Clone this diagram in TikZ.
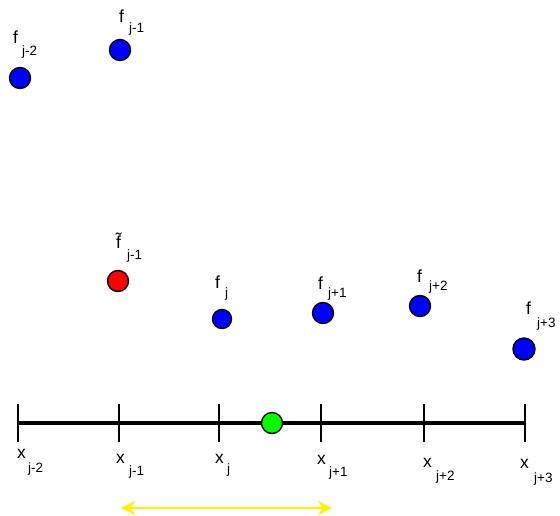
\documentclass[tikz,border=0pt]{standalone}
\usepackage{fontspec}
\setmainfont{Liberation Sans}
\usetikzlibrary{arrows.meta}
\begin{document}
\begin{tikzpicture}[x=1pt,y=-1pt,
  dot/.style={circle,draw=black,line width=1.4pt,inner sep=0pt,minimum size=21pt},
  mainlab/.style={anchor=base west,inner sep=0pt,font=\fontsize{17.5}{18}\selectfont},
  sublab/.style={anchor=base west,inner sep=0pt,font=\fontsize{13.5}{14}\selectfont},
  axisline/.style={line width=3.5pt},
  tickline/.style={line width=1.8pt},
  span/.style={draw=yellow,line width=2pt,{Stealth[length=14pt,width=14pt]}-{Stealth[length=14pt,width=14pt]}}]
\useasboundingbox (0,0) rectangle (560,516);
% points
\node[dot,fill=blue] (fjm2) at (20,78) {};
\node[dot,fill=blue] (fjm1) at (120,50) {};
\node[dot,fill=red] (ftj) at (118,281) {};
\node[dot,fill=blue,minimum size=19pt] (fj) at (222,319) {};
\node[dot,fill=blue] (fjp1) at (323,313) {};
\node[dot,fill=blue] (fjp2) at (420,306) {};
\node[dot,fill=blue,minimum size=22pt] (fjp3) at (524,349) {};
% f labels
\node[mainlab] (lf1) at (13,44) {f};
\node[sublab] (ls1) at (22,56) {j-2};
\node[mainlab] (lf2) at (119,23) {f};
\node[sublab] (ls2) at (129,33) {j-1};
\node[mainlab] (lf3) at (116,248) {\~{f}};
\node[sublab] (ls3) at (127,259) {j-1};
\node[mainlab] (lf4) at (215,288) {f};
\node[sublab] (ls4) at (225,297) {j};
\node[mainlab] (lf5) at (318,289) {f};
\node[sublab] (ls5) at (328,297) {j+1};
\node[mainlab] (lf6) at (417,282) {f};
\node[sublab] (ls6) at (429,290) {j+2};
\node[mainlab] (lf7) at (526,314) {f};
\node[sublab] (ls7) at (537,327) {j+3};
% axis
\coordinate (t1) at (18,423);
\coordinate (t2) at (119,423);
\coordinate (t3) at (219,423);
\coordinate (t4) at (321,423);
\coordinate (t5) at (424,423);
\coordinate (t6) at (525,423);
\draw[axisline] (t1) -- (t6);
\foreach \t in {t1,t2,t3,t4,t5,t6}
  \draw[tickline] ([yshift=19pt]\t) -- ([yshift=-19pt]\t);
\node[dot,fill=green] (g) at (272,423) {};
% x labels
\node[mainlab] (lx1) at (17,458) {x};
\node[sublab] (lxs1) at (28,472) {j-2};
\node[mainlab] (lx2) at (116,463) {x};
\node[sublab] (lxs2) at (129,475) {j-1};
\node[mainlab] (lx3) at (215,463) {x};
\node[sublab] (lxs3) at (227,473) {j};
\node[mainlab] (lx4) at (317,464) {x};
\node[sublab] (lxs4) at (329,476) {j+1};
\node[mainlab] (lx5) at (423,467) {x};
\node[sublab] (lxs5) at (436,480) {j+2};
\node[mainlab] (lx6) at (520,468) {x};
\node[sublab] (lxs6) at (534,482) {j+3};
% span arrow
\coordinate (a1) at (121,508);
\coordinate (a2) at (332,508);
\draw[span] (a1) -- (a2);
\end{tikzpicture}
\end{document}
